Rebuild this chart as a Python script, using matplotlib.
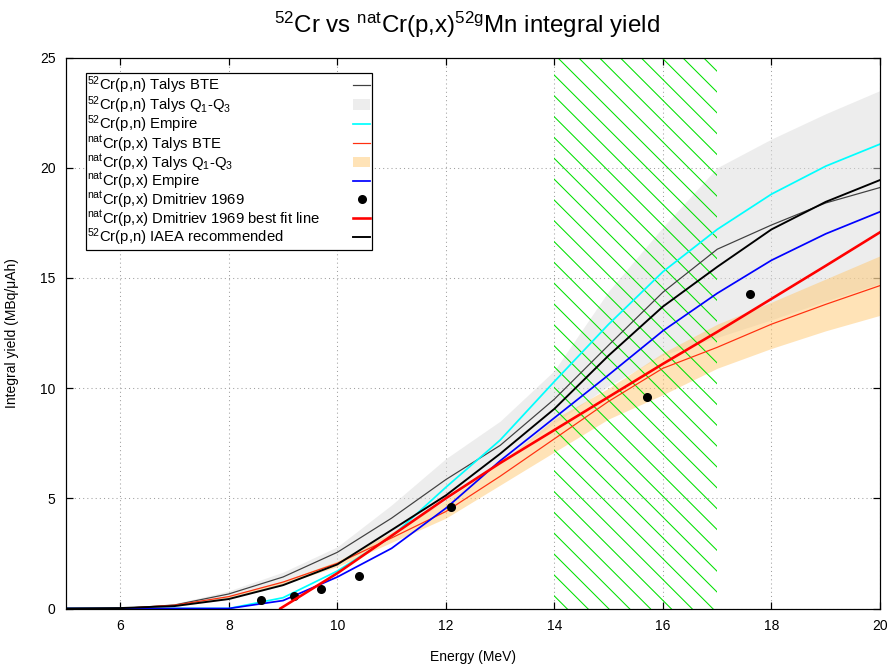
import matplotlib
matplotlib.use("Agg")
import matplotlib.pyplot as plt
import numpy as np

plt.rcParams['font.family'] = ['Liberation Sans', 'DejaVu Sans']
plt.rcParams['mathtext.fontset'] = 'custom'
plt.rcParams['mathtext.rm'] = 'Liberation Sans'
plt.rcParams['mathtext.default'] = 'regular'
plt.rcParams['hatch.linewidth'] = 0.6

# Energy grid (MeV)
energy = [5, 6, 7, 8, 9, 10, 11, 12, 13, 14, 15, 16, 17, 18, 19, 20]

# 52Cr(p,n)
cr52_talys_bte = [0, 0, 0.16, 0.66, 1.43, 2.55, 4.1, 5.85, 7.4, 9.5, 11.95, 14.35, 16.3, 17.4, 18.4, 19.1]
cr52_talys_q1 = [0, 0, 0.1, 0.4, 1.05, 2.0, 3.3, 4.9, 6.6, 8.4, 10.1, 11.5, 12.3, 13.1, 13.95, 14.75]
cr52_talys_q3 = [0, 0, 0.22, 0.8, 1.65, 2.8, 4.7, 6.8, 8.5, 10.8, 14.4, 17.3, 20.0, 21.3, 22.45, 23.5]
cr52_empire = [0, 0, 0, 0, 0.49, 1.7, 3.26, 5.5, 7.64, 10.3, 12.9, 15.28, 17.2, 18.8, 20.07, 21.07]
cr52_iaea = [0, 0.02, 0.11, 0.43, 1.06, 2.0, 3.56, 5.13, 7.02, 9.06, 11.48, 13.7, 15.5, 17.2, 18.45, 19.44]

# natCr(p,x)
nat_talys_bte = [0, 0, 0.15, 0.54, 1.2, 2.05, 3.2, 4.4, 6.0, 7.7, 9.4, 10.9, 11.85, 12.9, 13.8, 14.65]
nat_talys_q1 = [0, 0, 0.13, 0.5, 1.1, 1.9, 3.0, 4.1, 5.6, 7.1, 8.6, 9.7, 10.9, 11.8, 12.6, 13.3]
nat_talys_q3 = [0, 0, 0.17, 0.58, 1.25, 2.15, 3.45, 4.9, 6.6, 8.6, 10.0, 11.6, 12.9, 13.9, 14.95, 16.0]
nat_empire = [0, 0, 0, 0, 0.36, 1.43, 2.73, 4.55, 6.7, 8.65, 10.6, 12.6, 14.3, 15.8, 17.0, 18.0]

# Dmitriev 1969 measurements and best fit line
dmitriev_e = [8.6, 9.2, 9.7, 10.4, 12.1, 15.7, 17.6]
dmitriev_y = [0.38, 0.58, 0.9, 1.47, 4.62, 9.6, 14.25]
fit_e = [8.95, 10, 11, 12, 13, 14, 15, 16, 17, 18, 19, 20]
fit_y = [0, 1.6, 3.3, 5.0, 6.6, 8.1, 9.6, 11.1, 12.55, 14.05, 15.55, 17.07]

# hatched energy window
window = (14, 17)

DPI = 125
fig = plt.figure(figsize=(892 / DPI, 671 / DPI), dpi=DPI)
ax = fig.add_axes([66 / 892, 1 - 608.5 / 671, (880 - 66) / 892, (608.5 - 57.5) / 671])

band52 = ax.fill_between(energy, cr52_talys_q1, cr52_talys_q3, color='#dcdcdc', alpha=0.5, lw=0)
bandnat = ax.fill_between(energy, nat_talys_q1, nat_talys_q3, color='#ffc870', alpha=0.5, lw=0)
ax.axvspan(window[0], window[1], facecolor='none', edgecolor='#00e000', hatch='\\\\', lw=0)

l_bte52, = ax.plot(energy, cr52_talys_bte, color='#404040', lw=0.7)
l_emp52, = ax.plot(energy, cr52_empire, color='#00ffff', lw=1.0)
l_btenat, = ax.plot(energy, nat_talys_bte, color='#ff3010', lw=0.7)
l_empnat, = ax.plot(energy, nat_empire, color='#0000ff', lw=1.0)
l_dmi, = ax.plot(dmitriev_e, dmitriev_y, 'o', color='black', ms=4.2, ls='none')
l_fit, = ax.plot(fit_e, fit_y, color='#ff0000', lw=1.5)
l_iaea, = ax.plot(energy, cr52_iaea, color='black', lw=1.1)

ax.set_xlim(5, 20)
ax.set_ylim(0, 25)
ax.set_xticks([6, 8, 10, 12, 14, 16, 18, 20])
ax.set_yticks([0, 5, 10, 15, 20, 25])
ax.tick_params(direction='in', length=4, width=0.7, top=True, right=True, labelsize=8, pad=6)
ax.grid(True, linestyle=(0, (1, 3)), color='#a0a0a0', lw=0.6)
ax.set_axisbelow(True)
for s in ax.spines.values():
    s.set_linewidth(0.7)

ax.set_xlabel('Energy (MeV)', fontsize=8, labelpad=10)
ax.set_ylabel('Integral yield (MBq/μAh)', fontsize=8, labelpad=12)
ax.set_title(r'$^{52}$Cr vs $^{nat}$Cr(p,x)$^{52g}$Mn integral yield', fontsize=13.9, pad=14, x=0.493)

handles = [l_bte52, band52, l_emp52, l_btenat, bandnat, l_empnat, l_dmi, l_fit, l_iaea]
labels = [r'$^{52}$Cr(p,n) Talys BTE',
          r'$^{52}$Cr(p,n) Talys Q$_1$-Q$_3$',
          r'$^{52}$Cr(p,n) Empire',
          r'$^{nat}$Cr(p,x) Talys BTE',
          r'$^{nat}$Cr(p,x) Talys Q$_1$-Q$_3$',
          r'$^{nat}$Cr(p,x) Empire',
          r'$^{nat}$Cr(p,x) Dmitriev 1969',
          r'$^{nat}$Cr(p,x) Dmitriev 1969 best fit line',
          r'$^{52}$Cr(p,n) IAEA recommended']
leg = ax.legend(handles, labels, loc='upper left', bbox_to_anchor=(86 / 892, 1 - 73 / 671),
                bbox_transform=fig.transFigure, borderaxespad=0, markerfirst=False,
                fontsize=8.6, frameon=True, fancybox=False, framealpha=1, edgecolor='black',
                borderpad=0.1, labelspacing=-0.13, handlelength=1.2, handletextpad=0.5)
leg.get_frame().set_linewidth(0.7)

# gnuplot-style key: text left-aligned, samples in a column on the right
col = leg._legend_handle_box.get_children()[0]
col.align = 'left'
col.width = 283
for row in col.get_children():
    row.mode = 'expand'

fig.savefig('out.png', dpi=DPI)
